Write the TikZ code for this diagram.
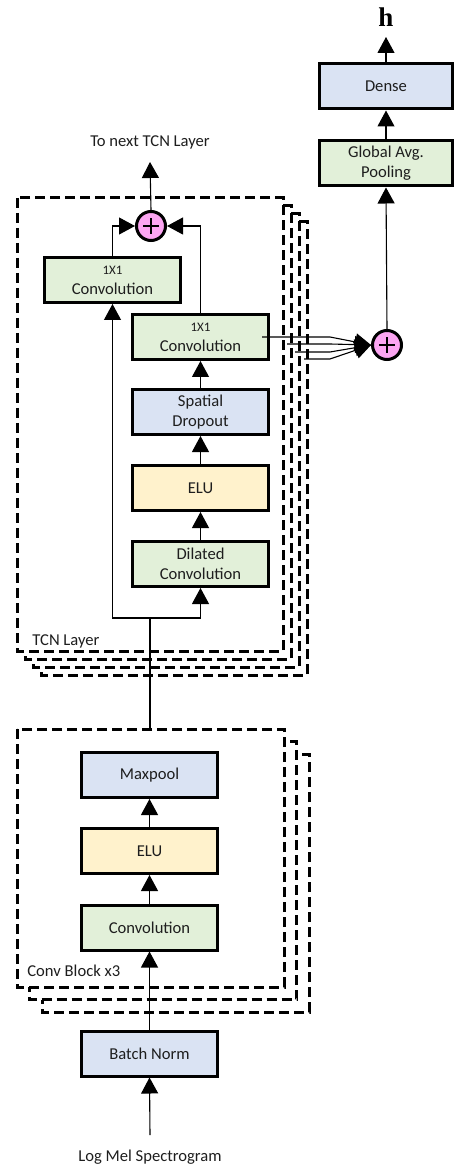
\documentclass[tikz,border=0pt]{standalone}
\usepackage{fontspec}
\setmainfont{Carlito}
\newfontfamily\hfont{Liberation Serif}
\usetikzlibrary{arrows.meta,positioning,calc}

\definecolor{boxgreen}{HTML}{E2F0D9}
\definecolor{boxblue}{HTML}{DAE3F3}
\definecolor{boxyellow}{HTML}{FFF2CC}
\definecolor{sumpink}{HTML}{FCA5F2}
\definecolor{txtgray}{HTML}{1E1E1E}

\newcommand{\lblfont}{\fontsize{8.3}{10}\selectfont}
\newcommand{\onebyone}{{\fontsize{6.5}{10}\selectfont 1X1}}

\tikzset{
  blk/.style={draw=black, line width=1.5pt, minimum width=68pt, minimum height=22.5pt,
    align=center, inner sep=1pt, font=\lblfont, text=txtgray},
  greenblk/.style={blk, fill=boxgreen},
  blueblk/.style={blk, fill=boxblue},
  yellowblk/.style={blk, fill=boxyellow},
  sum/.style={circle, draw=black, line width=1.5pt, fill=sumpink, minimum size=14.5pt, inner sep=0pt},
  frame/.style={draw=black, line width=1.5pt, dash pattern=on 5pt off 2.5pt, fill=white},
  arr/.style={-{Triangle[length=8pt,width=8.5pt]}, line width=0.55pt},
  plain/.style={line width=0.55pt},
  lbl/.style={font=\lblfont, text=txtgray, inner sep=0pt}
}

\begin{document}
\begin{tikzpicture}[x=0.5pt,y=-0.5pt]
\useasboundingbox (0,0) rectangle (454,1165);

% Conv block frames (stacked, back to front)
\foreach \i in {2,1,0} {
  \draw[frame] ({17+12.5*\i},{729+12.5*\i}) rectangle ({284+12.5*\i},{987+12.5*\i});
}
% TCN layer frames (stacked, back to front)
\foreach \i in {3,2,1,0} {
  \draw[frame] ({17+8*\i},{198+8*\i}) rectangle ({283+8*\i},{651+8*\i});
}
\node[lbl, anchor=west] (tcnlbl) at (32,641) {TCN Layer};
\node[lbl, anchor=west] (convlbl) at (27,971) {Conv Block x3};

% Conv block
\node[blueblk] (bn) at (149.5,1053.5) {Batch Norm};
\node[greenblk] (conv) at (149.5,927.5) {Convolution};
\node[yellowblk] (elu2) at (149.5,851) {ELU};
\node[blueblk] (maxp) at (149.5,775) {Maxpool};

% TCN layer
\node[greenblk] (dil) at (200.5,564) {Dilated\\Convolution};
\node[yellowblk] (elu1) at (200.5,488) {ELU};
\node[blueblk] (drop) at (200.5,412) {Spatial\\Dropout};
\node[greenblk] (rconv) at (200.5,337) {\onebyone\\Convolution};
\node[greenblk] (lconv) at (112.5,280) {\onebyone\\Convolution};
\node[sum] (plusL) at (151,226) {};
\draw[line width=1.1pt] ([xshift=-4pt]plusL.center) -- ([xshift=4pt]plusL.center)
  ([yshift=-4pt]plusL.center) -- ([yshift=4pt]plusL.center);

% Output head
\node[sum] (plusR) at (387,345) {};
\draw[line width=1.1pt] ([xshift=-4pt]plusR.center) -- ([xshift=4pt]plusR.center)
  ([yshift=-4pt]plusR.center) -- ([yshift=4pt]plusR.center);
\node[greenblk, minimum width=66.5pt] (gap) at (386,163.5) {Global Avg.\\Pooling};
\node[blueblk, minimum width=66.5pt] (dense) at (386,86.5) {Dense};
\node[inner sep=0pt, font=\hfont\bfseries\fontsize{13.5}{13.5}\selectfont] (hout) at (386,17) {h};

% Texts
\node[lbl] (next) at (150,142) {To next TCN Layer};
\node[lbl] (input) at (150,1157) {Log Mel Spectrogram};

\coordinate (intail) at (150,1135);
\coordinate (convtop) at (150,729);
\coordinate (split) at (150,618);
\coordinate (nexttip) at (150,162);
\coordinate (htip) at (386,37);

% Connectors
\draw[arr] (intail) -- (bn.south);
\draw[arr] (bn.north) -- (conv.south);
\draw[arr] (conv.north) -- (elu2.south);
\draw[arr] (elu2.north) -- (maxp.south);
\draw[plain] (convtop) -- (split);
\draw[arr] (split) -| (lconv.south);
\draw[arr] (split) -| (dil.south);
\draw[arr] (dil.north) -- (elu1.south);
\draw[arr] (elu1.north) -- (drop.south);
\draw[arr] (drop.north) -- (rconv.south);
\draw[arr] (lconv.north) |- (plusL.west);
\draw[arr] (rconv.north) |- (plusL.east);
\draw[arr] (plusL.north) -- (nexttip);
% skip outputs of all TCN layers
\foreach \xs/\ys in {262/337,287/344,295/352,304/359} {
  \draw[arr] (\xs,\ys) -- (330,\ys) -- (plusR.west);
}
\draw[arr] (plusR.north) -- (gap.south);
\draw[arr] (gap.north) -- (dense.south);
\draw[arr] (dense.north) -- (htip);
\end{tikzpicture}
\end{document}
